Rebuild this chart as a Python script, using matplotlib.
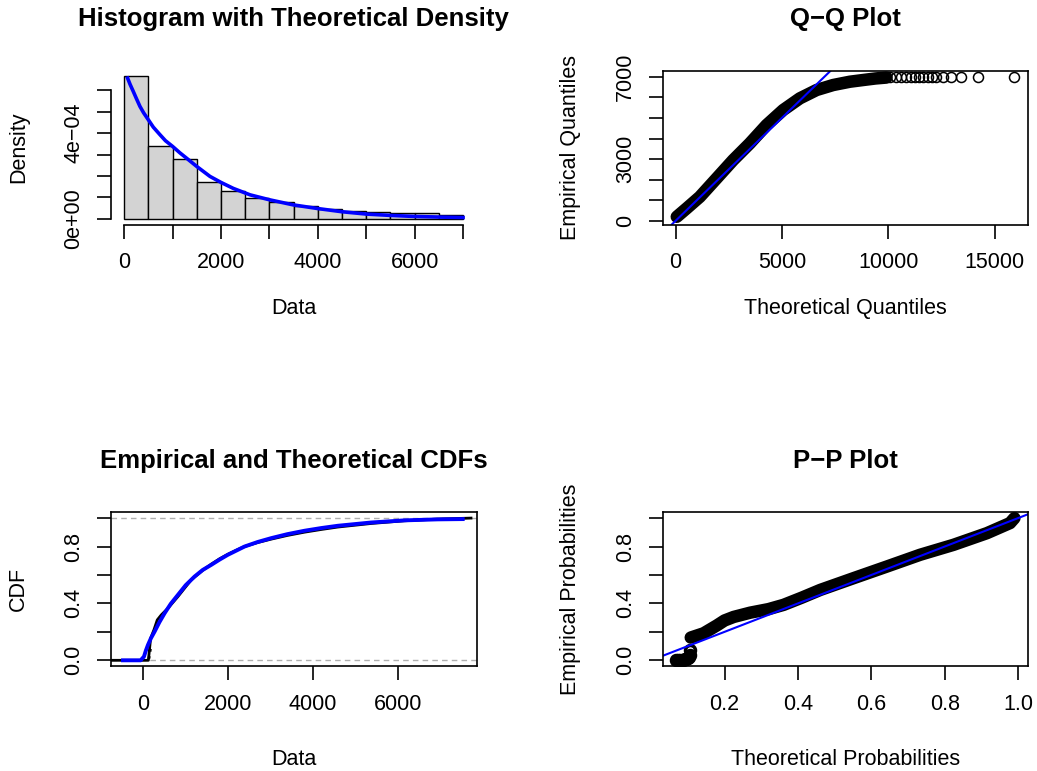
import numpy as np
import matplotlib.pyplot as plt

plt.rcParams['font.family'] = ['Liberation Sans', 'DejaVu Sans']
plt.rcParams['font.size'] = 15.5

# --- histogram with theoretical density ---
bin_left = [0, 500, 1000, 1500, 2000, 2500, 3000, 3500, 4000, 4500, 5000, 5500, 6000, 6500]
bin_width = 500
hist_density = [6.65e-4, 3.40e-4, 2.79e-4, 1.73e-4, 1.28e-4, 0.95e-4, 0.79e-4,
                0.59e-4, 0.48e-4, 0.36e-4, 0.33e-4, 0.27e-4, 0.25e-4, 0.20e-4]
dens_x = [69, 120, 186, 250, 324, 400, 496, 600, 737, 850, 999, 1150, 1288, 1495,
          1771, 1998, 2253, 2598, 2997, 3493, 3996, 4499, 5009, 5491, 5994, 6525, 7000]
dens_y = [6.57e-4, 6.28e-4, 5.95e-4, 5.62e-4, 5.25e-4, 4.95e-4, 4.63e-4, 4.28e-4,
          3.93e-4, 3.65e-4, 3.38e-4, 3.08e-4, 2.83e-4, 2.45e-4, 1.98e-4, 1.70e-4,
          1.42e-4, 1.12e-4, 0.89e-4, 0.65e-4, 0.48e-4, 0.33e-4, 0.22e-4, 0.16e-4,
          0.11e-4, 0.08e-4, 0.06e-4]

# --- Q-Q plot ---
qq_band_x = [60, 517, 1142, 1928, 2708, 3493, 4278, 5059, 5844, 6629, 7410,
             8195, 8820, 9400, 9918]
qq_band_y = [200, 603, 1167, 2061, 2951, 3763, 4652, 5382, 5950, 6354, 6597,
             6757, 6840, 6915, 6960]
qq_tail_x = [10100, 10350, 10600, 10850, 11050, 11250, 11450, 11650, 11850,
             12050, 12250, 12550, 12930, 13410, 14230, 15900]
qq_tail_y = [6965, 6970, 6975, 6980, 6983, 6986, 6989, 6991, 6993, 6995, 6997,
             7000, 7002, 7005, 7008, 7010]

# --- empirical and theoretical CDFs ---
ecdf_x = [-745, 120, 173, 251, 330, 424, 582, 817, 1132, 1400, 1603, 1800, 1996,
          2200, 2389, 2700, 3018, 3400, 3804, 4200, 4590, 5375, 6161, 6947, 7733]
ecdf_y = [0.0, 0.0, 0.155, 0.214, 0.284, 0.319, 0.366, 0.448, 0.566, 0.632, 0.676,
          0.714, 0.746, 0.775, 0.800, 0.828, 0.852, 0.878, 0.901, 0.920, 0.937,
          0.962, 0.981, 0.993, 1.0]
ecdf_gap_x = [130, 150, 170]
ecdf_gap_y = [0.01, 0.04, 0.085]
tcdf_x = [-479, -63, 16, 60, 110, 180, 267, 380, 503, 650, 817, 1000, 1210, 1400,
          1603, 1800, 1996, 2200, 2389, 2700, 3018, 3400, 3804, 4200, 4590, 5000,
          5375, 6161, 6947, 7537]
tcdf_y = [0.0, 0.0, 0.026, 0.068, 0.108, 0.155, 0.202, 0.268, 0.331, 0.398, 0.460,
          0.528, 0.589, 0.635, 0.671, 0.708, 0.742, 0.772, 0.800, 0.832, 0.859,
          0.887, 0.911, 0.930, 0.946, 0.958, 0.969, 0.984, 0.991, 0.993]

# --- P-P plot ---
pp_start_x = [0.068, 0.074, 0.080, 0.086, 0.091, 0.096, 0.100, 0.103, 0.105, 0.107]
pp_start_y = [0.0, 0.0, 0.0, 0.004, 0.006, 0.010, 0.014, 0.022, 0.040, 0.072]
pp_band_x = [0.108, 0.143, 0.179, 0.200, 0.225, 0.270, 0.320, 0.361, 0.410, 0.461,
             0.551, 0.642, 0.733, 0.824, 0.915, 0.978, 0.990]
pp_band_y = [0.160, 0.190, 0.245, 0.280, 0.305, 0.335, 0.360, 0.390, 0.440, 0.495,
             0.577, 0.659, 0.742, 0.812, 0.894, 0.965, 1.0]

fig = plt.figure(figsize=(10.37, 7.71), dpi=100)
W, H = 1037, 771


def panel(left, top, right, bottom):
    return fig.add_axes([left / W, 1 - bottom / H, (right - left) / W, (bottom - top) / H])


def style(ax, xlab, ylab, row):
    ax.tick_params(direction='out', length=10, width=1.2, pad=10)
    ax.tick_params(axis='y', labelrotation=90, pad=9)
    for t in ax.get_yticklabels():
        t.set_verticalalignment('center')
    for s in ax.spines.values():
        s.set_linewidth(1.2)
    ax.set_xlabel(xlab, va='center')
    ax.set_ylabel(ylab, va='center')
    ax.xaxis.set_label_coords(0.5, -0.549 if row == 0 else -0.6055)
    ax.yaxis.set_label_coords(-0.2525, 0.5)


def title(ax, txt):
    ax.set_title(txt, fontsize=18.5, fontweight='bold', y=1.29, pad=0)


# histogram panel
ax1 = panel(110.7, 70.7, 476.6, 224.5)
ax1.bar(bin_left, hist_density, width=bin_width, align='edge', color='#d3d3d3',
        edgecolor='black', linewidth=1.0)
ax1.plot(dens_x, dens_y, color='blue', lw=2.6)
ax1.set_xlim(-280, 7280)
ax1.set_ylim(-0.266e-4, 6.916e-4)
ax1.set_xticks(range(0, 7001, 1000))
ax1.set_xticklabels(['0', '', '2000', '', '4000', '', '6000', ''])
ax1.set_yticks([i * 1e-4 for i in range(7)])
ax1.set_yticklabels(['0e+00', '', '', '', '4e\u221204', '', ''])
ax1.spines['top'].set_visible(False)
ax1.spines['right'].set_visible(False)
ax1.spines['left'].set_bounds(0, 6e-4)
ax1.spines['bottom'].set_bounds(0, 7000)
style(ax1, 'Data', 'Density', 0)
title(ax1, 'Histogram with Theoretical Density')

# Q-Q panel
ax2 = panel(662.5, 70.7, 1028, 224.5)
ax2.plot(qq_band_x, qq_band_y, color='black', lw=9, solid_capstyle='round',
         solid_joinstyle='round')
ax2.plot(qq_tail_x, qq_tail_y, 'o', mfc='none', mec='black', ms=7.2, mew=1.1)
ax2.axline((0, 0), slope=1, color='blue', lw=1.5)
ax2.set_xlim(-611, 16566)
ax2.set_ylim(-175, 7292)
ax2.set_xticks([0, 5000, 10000, 15000])
ax2.set_yticks(range(0, 7001, 1000))
ax2.set_yticklabels(['0', '', '', '3000', '', '', '', '7000'])
style(ax2, 'Theoretical Quantiles', 'Empirical Quantiles', 0)
title(ax2, 'Q\u2212Q Plot')

# CDF panel
ax3 = panel(110.7, 512.4, 476.6, 666)
ax3.axhline(0, color='#b0b0b0', lw=1, dashes=(4, 3))
ax3.axhline(1, color='#b0b0b0', lw=1, dashes=(4, 3))
ax3.plot(ecdf_x, ecdf_y, color='black', lw=2)
ax3.plot(ecdf_gap_x, ecdf_gap_y, color='black', lw=2, ls=':')
ax3.plot(tcdf_x, tcdf_y, color='blue', lw=2.8)
ax3.set_xlim(-769, 7865)
ax3.set_ylim(-0.04, 1.04)
ax3.set_xticks([0, 2000, 4000, 6000])
ax3.set_yticks([0, 0.2, 0.4, 0.6, 0.8, 1.0])
ax3.set_yticklabels(['0.0', '', '0.4', '', '0.8', ''])
style(ax3, 'Data', 'CDF', 1)
title(ax3, 'Empirical and Theoretical CDFs')

# P-P panel
ax4 = panel(662.5, 512.4, 1028, 666)
ax4.plot(pp_band_x, pp_band_y, color='black', lw=9, solid_capstyle='round',
         solid_joinstyle='round')
ax4.plot(pp_start_x, pp_start_y, 'o', mfc='none', mec='black', ms=7.2, mew=2.5)
ax4.axline((0, 0), slope=1, color='blue', lw=1.5)
ax4.set_xlim(0.031, 1.027)
ax4.set_ylim(-0.04, 1.04)
ax4.set_xticks([0.2, 0.4, 0.6, 0.8, 1.0])
ax4.set_xticklabels(['0.2', '0.4', '0.6', '0.8', '1.0'])
ax4.set_yticks([0, 0.2, 0.4, 0.6, 0.8, 1.0])
ax4.set_yticklabels(['0.0', '', '0.4', '', '0.8', ''])
style(ax4, 'Theoretical Probabilities', 'Empirical Probabilities', 1)
title(ax4, 'P\u2212P Plot')

fig.savefig('out.png', dpi=100)
